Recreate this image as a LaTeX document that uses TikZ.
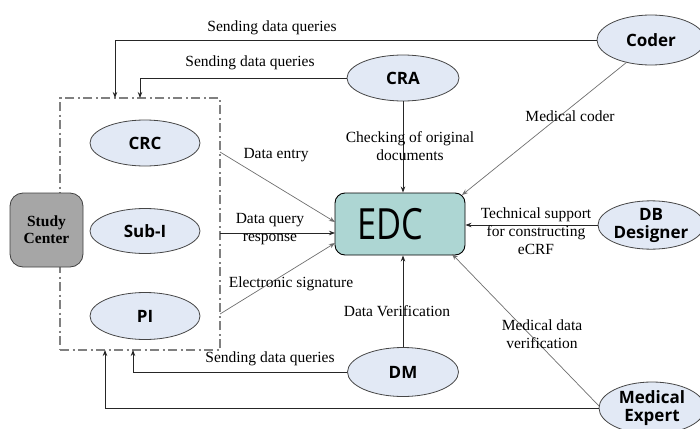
\documentclass[tikz,border=0pt]{standalone}
\usepackage{fontspec}
\setmainfont{Liberation Serif}
\newfontfamily\nodefont{Open Sans}
\usetikzlibrary{arrows.meta,shapes.geometric,calc}
\definecolor{ellfill}{RGB}{226,233,245}
\definecolor{ellline}{RGB}{70,70,70}
\definecolor{edcfill}{RGB}{173,214,211}
\definecolor{sitefill}{RGB}{166,166,166}
\definecolor{diag}{RGB}{110,110,110}
\tikzset{
  role/.style={ellipse, draw=ellline, fill=ellfill, line width=0.8pt, inner sep=0pt,
    font=\nodefont\bfseries\fontsize{17}{18}\selectfont, align=center},
  lbl/.style={font=\fontsize{15.5}{18}\selectfont, align=center, inner sep=0pt},
  arr/.style={-{Stealth[length=6pt,width=4.5pt]}, line width=0.8pt, draw=black!85},
  darr/.style={-{Stealth[length=6pt,width=4.5pt]}, line width=0.7pt, draw=diag},
}
\begin{document}
\begin{tikzpicture}[x=1pt,y=-1pt]
\useasboundingbox (0,0) rectangle (700,428);
\begin{scope}
\clip (0,0) rectangle (700,428);
% site box
\node[draw=black!50, line width=1.2pt, dash pattern=on 9pt off 3.5pt on 2pt off 3.5pt,
      minimum width=160pt, minimum height=252pt, inner sep=0pt] (site) at (140,224) {};
\node[draw=black!75, fill=sitefill, rounded corners=13pt, line width=0.8pt,
      minimum width=73pt, minimum height=74pt, inner sep=0pt, align=center,
      font=\bfseries\fontsize{15.5}{17}\selectfont] (study) at (46.5,230) {Study\\Center};
% roles inside
\node[role, minimum width=110pt, minimum height=46pt] (crc) at (145,143) {CRC};
\node[role, minimum width=110pt, minimum height=45pt] (subi) at (145,231) {Sub-I};
\node[role, minimum width=110pt, minimum height=47pt] (pi) at (145,316) {PI};
% EDC
\node[draw=black, fill=edcfill, rounded corners=10pt, line width=0.9pt,
      minimum width=130pt, minimum height=62pt, inner sep=0pt] (edc) at (400,224)
      {\hspace*{-20pt}\scalebox{0.8}[1]{\nodefont\fontsize{43}{43}\selectfont EDC}};
% outer roles
\node[role, minimum width=108pt, minimum height=50pt] (coder) at (651,40) {Coder};
\node[role, minimum width=112pt, minimum height=46pt] (cra) at (403,78) {CRA};
\node[role, minimum width=106pt, minimum height=48pt] (db) at (651,225) {DB\\Designer};
\node[role, minimum width=111pt, minimum height=49pt] (dm) at (403,372) {DM};
\node[role, minimum width=106pt, minimum height=52pt] (me) at (652,408) {Medical\\Expert};
% coordinates
\coordinate (q1) at (115,98);
\coordinate (q2) at (140,98);
\coordinate (q3) at (133,350);
\coordinate (q4) at (105,350);
\coordinate (s1) at (220,152);
\coordinate (s2) at (220,233);
\coordinate (s3) at (220,314);
\coordinate (e1) at (335,222);
\coordinate (e2) at (335,233);
\coordinate (e3) at (335,243);
\coordinate (e4) at (462,195);
\coordinate (e5) at (452,254);
\coordinate (c0) at (627,62);
\coordinate (m1) at (599,406);
% connectors
\draw[arr] (coder.west) -| (q1);
\draw[arr] (cra.west) -| (q2);
\draw[arr] (dm.west) -| (q3);
\draw[arr] (me.west) -| (q4);
\draw[darr] (s1) -- (e1);
\draw[arr] (s2) -- (e2);
\draw[darr] (s3) -- (e3);
\draw[arr] (cra.south) -- (cra.south |- edc.north);
\draw[arr] (dm.north) -- (dm.north |- edc.south);
\draw[darr] (c0) -- (e4);
\draw[arr] (db.west) -- (edc.east |- db.west);
\draw[darr] (m1) -- (e5);
% labels
\node[lbl] (t1) at (272,28) {Sending data queries};
\node[lbl] (t2) at (250,63) {Sending data queries};
\node[lbl] (t3) at (270,359) {Sending data queries};
\node[lbl] (t4) at (276,155) {Data entry};
\node[lbl] (t5) at (270,229) {Data query\\response};
\node[lbl] (t6) at (291,284) {Electronic signature};
\node[lbl] (t7) at (410,146) {Checking of original\\documents};
\node[lbl] (t8) at (570,116) {Medical coder};
\node[lbl] (t9) at (536,231) {Technical support\\for constructing\\eCRF};
\node[lbl] (t10) at (397,311) {Data Verification};
\node[lbl] (t11) at (542,334) {Medical data\\verification};
\end{scope}
\end{tikzpicture}
\end{document}
